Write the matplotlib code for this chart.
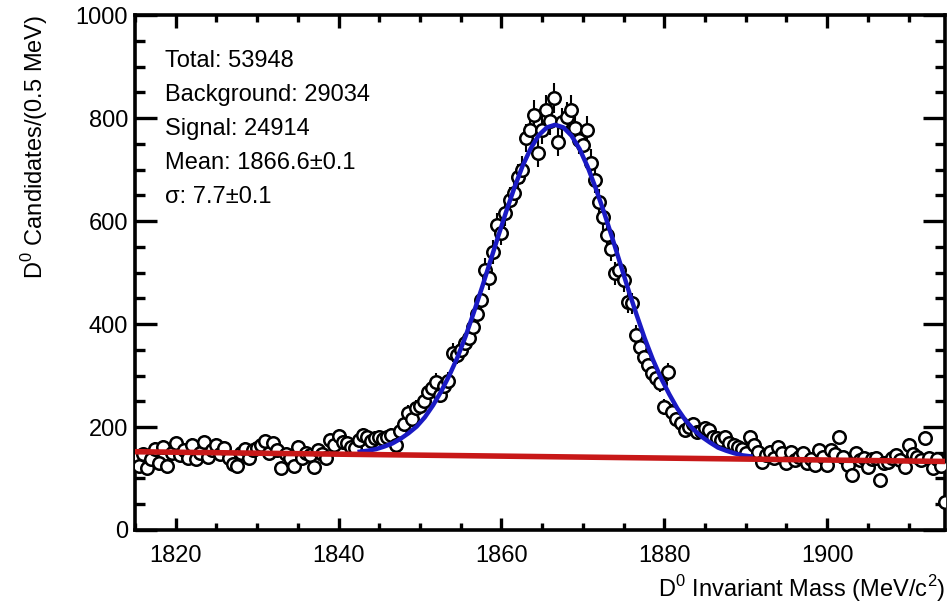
import numpy as np
import matplotlib
matplotlib.use("Agg")
import matplotlib.pyplot as plt
from matplotlib.ticker import MultipleLocator

plt.rcParams["font.family"] = ["Liberation Sans", "DejaVu Sans"]
plt.rcParams["mathtext.fontset"] = "custom"
plt.rcParams["mathtext.rm"] = "Liberation Sans"

# histogram: 0.5 MeV bins starting at 1815 MeV
bin_start = 1815.0
bin_width = 0.5
counts = [
    142, 125, 148, 120, 138, 158, 130, 162, 125, 150,
    168, 145, 155, 140, 165, 138, 150, 170, 142, 155,
    165, 148, 160, 140, 128, 125, 150, 158, 140, 155,
    160, 165, 172, 150, 168, 155, 120, 148, 140, 125,
    162, 140, 150, 145, 122, 155, 148, 140, 175, 165,
    182, 170, 168, 162, 160, 175, 185, 180, 172, 178,
    180, 176, 180, 185, 165, 192, 205, 227, 215, 237,
    240, 250, 268, 275, 287, 262, 280, 290, 344, 340,
    350, 363, 372, 394, 420, 447, 505, 489, 540, 592,
    577, 616, 641, 654, 685, 699, 761, 777, 806, 732,
    777, 816, 795, 839, 753, 792, 802, 816, 780, 757,
    748, 777, 713, 680, 637, 608, 573, 545, 499, 505,
    485, 443, 440, 379, 355, 336, 320, 305, 295, 285,
    239, 307, 229, 215, 207, 194, 200, 205, 190, 192,
    198, 194, 181, 179, 175, 181, 169, 165, 161, 158,
    150, 181, 165, 152, 132, 145, 152, 140, 161, 150,
    130, 152, 136, 142, 149, 130, 138, 126, 155, 142,
    126, 155, 148, 181, 142, 126, 107, 149, 135, 140,
    122, 138, 140, 97, 130, 132, 140, 146, 135, 122,
    165, 148, 142, 135, 179, 140, 120, 138, 125, 55,
]

# total fit (signal + background)
fit_mass = [1842.6, 1843.6, 1844.6, 1845.6, 1846.6, 1847.6, 1848.6, 1849.6,
            1850.6, 1851.6, 1852.6, 1853.6, 1854.6, 1855.6, 1856.6, 1857.6,
            1858.6, 1859.6, 1860.6, 1861.6, 1862.6, 1863.6, 1864.6, 1865.6,
            1866.6, 1867.6, 1868.6, 1869.6, 1870.6, 1871.6, 1872.6, 1873.6,
            1874.6, 1875.6, 1876.6, 1877.6, 1878.6, 1879.6, 1880.6, 1881.6,
            1882.6, 1883.6, 1884.6, 1885.6, 1886.6, 1887.6, 1888.6, 1889.6,
            1890.6]
fit_total = [152, 154, 157, 162, 168, 177, 188, 201,
             219, 242, 269, 300, 335, 376, 422, 470,
             520, 570, 619, 665, 707, 741, 767, 782,
             787, 782, 766, 740, 705, 663, 617, 568,
             517, 466, 418, 372, 331, 295, 264, 236,
             213, 195, 181, 170, 160, 154, 149, 145,
             143]

# linear background
bkg_mass = [1815, 1915]
bkg_level = [152, 133]

info = ["Total: 53948", "Background: 29034", "Signal: 24914",
        "Mean: 1866.6\u00b10.1", "\u03c3: 7.7\u00b10.1"]

mass = bin_start + bin_width * np.arange(len(counts))
counts = np.array(counts, dtype=float)

fig = plt.figure(figsize=(9.5, 6.05), dpi=100)
ax = fig.add_axes([0.142, 0.124, 0.853, 0.851])

ax.errorbar(mass, counts, yerr=np.sqrt(counts), fmt="o", mfc="white",
            mec="black", ecolor="black", ms=9, mew=1.8, elinewidth=1.5,
            capsize=0, zorder=3, clip_on=True)
ax.plot(fit_mass, fit_total, color="#1a1ac4", lw=3.2, zorder=4)
ax.plot(bkg_mass, bkg_level, color="#c81818", lw=4, zorder=5)

ax.set_xlim(1815, 1914.5)
ax.set_ylim(0, 1000)
ax.xaxis.set_major_locator(MultipleLocator(20))
ax.xaxis.set_minor_locator(MultipleLocator(5))
ax.yaxis.set_major_locator(MultipleLocator(200))
ax.yaxis.set_minor_locator(MultipleLocator(50))

for s in ax.spines.values():
    s.set_linewidth(2.6)
ax.tick_params(axis="both", which="both", direction="in", top=True,
               right=True, width=2.4, labelsize=17)
ax.tick_params(axis="x", which="major", length=9, pad=11)
ax.tick_params(axis="x", which="minor", length=5)
ax.tick_params(axis="y", which="major", length=16, pad=5)
ax.tick_params(axis="y", which="minor", length=7)

ax.set_xlabel(r"D$^{0}$ Invariant Mass (MeV/c$^{2}$)", fontsize=17,
              loc="right", labelpad=4)
ax.set_ylabel(r"D$^{0}$ Candidates/(0.5 MeV)", fontsize=17, loc="top",
              labelpad=18)

for i, line in enumerate(info):
    ax.text(0.037, 0.899 - i * 0.066, line, transform=ax.transAxes,
            fontsize=17, va="baseline", ha="left")

fig.savefig("out.png", dpi=100)
